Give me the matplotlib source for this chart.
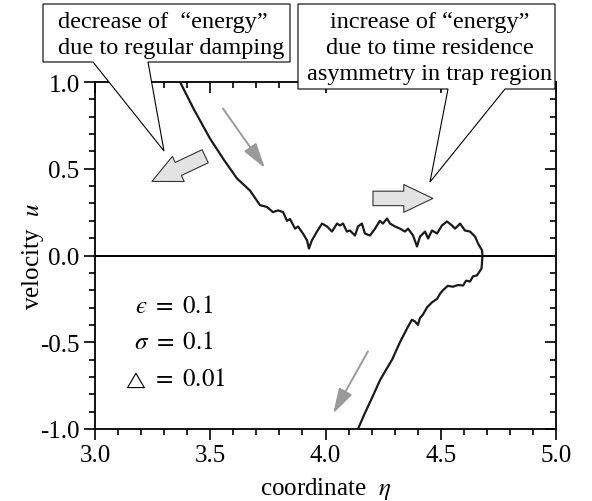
import matplotlib
matplotlib.use("Agg")
import matplotlib.pyplot as plt
from matplotlib.patches import Polygon
from matplotlib.ticker import MultipleLocator, FormatStrFormatter

plt.rcParams['font.family'] = 'serif'
plt.rcParams['font.serif'] = ['Liberation Serif', 'DejaVu Serif']
plt.rcParams['mathtext.fontset'] = 'stix'
plt.rcParams['axes.unicode_minus'] = False

# trajectory: upper branch (moving right), then lower branch
eta_upper = [3.369, 3.43, 3.499, 3.56, 3.616, 3.672, 3.716, 3.746, 3.772, 3.794,
             3.816, 3.833, 3.846, 3.868, 3.881, 3.902, 3.920, 3.928, 3.941, 3.963,
             3.985, 4.007, 4.028, 4.050, 4.063, 4.076, 4.093, 4.106, 4.128, 4.141,
             4.158, 4.171, 4.193, 4.215, 4.236, 4.249, 4.267, 4.280, 4.302, 4.323,
             4.345, 4.358, 4.380, 4.397, 4.410, 4.432, 4.445, 4.462, 4.484, 4.505,
             4.527, 4.549, 4.562, 4.584, 4.605, 4.627, 4.649, 4.662, 4.679, 4.681]
u_upper = [1.0, 0.84, 0.674, 0.55, 0.444, 0.375, 0.29, 0.28, 0.25, 0.26,
           0.25, 0.20, 0.21, 0.155, 0.167, 0.127, 0.087, 0.04, 0.087, 0.138,
           0.184, 0.167, 0.138, 0.184, 0.173, 0.184, 0.138, 0.144, 0.115, 0.167,
           0.184, 0.127, 0.115, 0.155, 0.20, 0.184, 0.213, 0.184, 0.167, 0.155,
           0.138, 0.155, 0.115, 0.052, 0.109, 0.138, 0.098, 0.144, 0.127, 0.173,
           0.196, 0.173, 0.155, 0.184, 0.144, 0.138, 0.109, 0.069, 0.03, 0.0]

eta_lower = [4.681, 4.679, 4.677, 4.657, 4.640, 4.627, 4.610, 4.597, 4.575, 4.553,
             4.530, 4.51, 4.497, 4.484, 4.462, 4.44, 4.423, 4.41, 4.401, 4.388,
             4.375, 4.358, 4.323, 4.289, 4.262, 4.236, 4.202, 4.167, 4.141]
u_lower = [0.0, -0.04, -0.075, -0.115, -0.12, -0.15, -0.145, -0.173, -0.17, -0.18,
           -0.175, -0.20, -0.22, -0.25, -0.27, -0.30, -0.34, -0.36, -0.40, -0.38,
           -0.37, -0.41, -0.50, -0.60, -0.66, -0.72, -0.82, -0.92, -1.0]

params = ['$\u03f5\\ =\\ 0.1$', r'$\sigma\ =\ 0.1$']
step_symbol = '$\u25b3$'
step_value = '$\\ =\\ 0.01$'
note_left = ['decrease of  \u201cenergy\u201d', 'due to regular damping']
note_right = ['increase of \u201cenergy\u201d', 'due to time residence',
              'asymmetry in trap region']

W, H = 592, 502
fig = plt.figure(figsize=(W / 100, H / 100), dpi=100)
ax = fig.add_axes([95 / W, 1 - 430 / H, 461 / W, 347 / H])


def px(x, y):
    return (x / W, 1 - y / H)


ax.plot(eta_upper + eta_lower, u_upper + u_lower, color='#1a1a1a', lw=1.6, zorder=3)
ax.axhline(0, color='black', lw=1.4, zorder=2)

ax.set_xlim(3.0, 5.0)
ax.set_ylim(-1.0, 1.0)
ax.xaxis.set_major_locator(MultipleLocator(0.5))
ax.xaxis.set_minor_locator(MultipleLocator(0.1))
ax.yaxis.set_major_locator(MultipleLocator(0.5))
ax.yaxis.set_minor_locator(MultipleLocator(0.1))
ax.xaxis.set_major_formatter(FormatStrFormatter('%.1f'))
ax.yaxis.set_major_formatter(FormatStrFormatter('%.1f'))
for s in ax.spines.values():
    s.set_linewidth(1.3)
ax.tick_params(which='both', labelsize=18, width=1.2, pad=3,
               top=True, right=True, direction='out')
ax.tick_params(which='major', length=8)
ax.tick_params(which='minor', length=4)
# top/right ticks point inward
for t in ax.xaxis.get_major_ticks() + ax.xaxis.get_minor_ticks():
    t.tick2line.set_marker(3)
for t in ax.yaxis.get_major_ticks() + ax.yaxis.get_minor_ticks():
    t.tick2line.set_marker(0)

ax.set_xlabel(r'coordinate  $\eta$', fontsize=18, labelpad=6.5)
ax.set_ylabel(r'velocity  $u$', fontsize=18, labelpad=-4)

for i, p in enumerate(params):
    ax.text(3.343, -0.323 - 0.213 * i, p, fontsize=18, ha='center', va='baseline')
tri = ax.text(3.13, -0.745, step_symbol, fontsize=12.5, ha='left', va='baseline')
ax.annotate(step_value, xy=(1, -0.749), xycoords=(tri, 'data'), fontsize=18,
            ha='left', va='baseline')

# thin grey direction arrows
thin = dict(arrowstyle='-|>,head_length=1.1,head_width=0.32',
            color='#999999', lw=1.4, mutation_scale=14, shrinkA=0, shrinkB=0)
ax.annotate('', xy=(3.737, 0.504), xytext=(3.555, 0.847), arrowprops=thin)
ax.annotate('', xy=(4.033, -0.911), xytext=(4.184, -0.553), arrowprops=thin)

# block arrows for energy flow
block = dict(arrowstyle='simple,head_length=1.05,head_width=1.0,tail_width=0.52',
             fc='#e3e3e3', ec='#333333', lw=0.8, mutation_scale=20,
             shrinkA=0, shrinkB=0)
ax.annotate('', xy=(3.247, 0.427), xytext=(3.478, 0.572), arrowprops=block)
ax.annotate('', xy=(4.466, 0.329), xytext=(4.206, 0.329), arrowprops=block)

# callout boxes
left_box = [(43, 5), (290, 5), (290, 63), (148, 63), (164, 152), (93, 63), (43, 63)]
right_box = [(298, 5), (555, 5), (555, 90), (505, 90), (430, 183), (448, 90), (298, 90)]
for pts in (left_box, right_box):
    fig.add_artist(Polygon([px(*p) for p in pts], closed=True,
                           transform=fig.transFigure, fc='white', ec='black',
                           lw=0.8, zorder=10))

for i, line in enumerate(note_left):
    fig.text(*px(58, 28 + 26 * i), line, fontsize=17.5, ha='left', va='baseline',
             zorder=11)
for i, line in enumerate(note_right):
    fig.text(*px(430, 28 + 26 * i), line, fontsize=17.5, ha='center', va='baseline',
             zorder=11)

fig.savefig('out.png', dpi=100)
